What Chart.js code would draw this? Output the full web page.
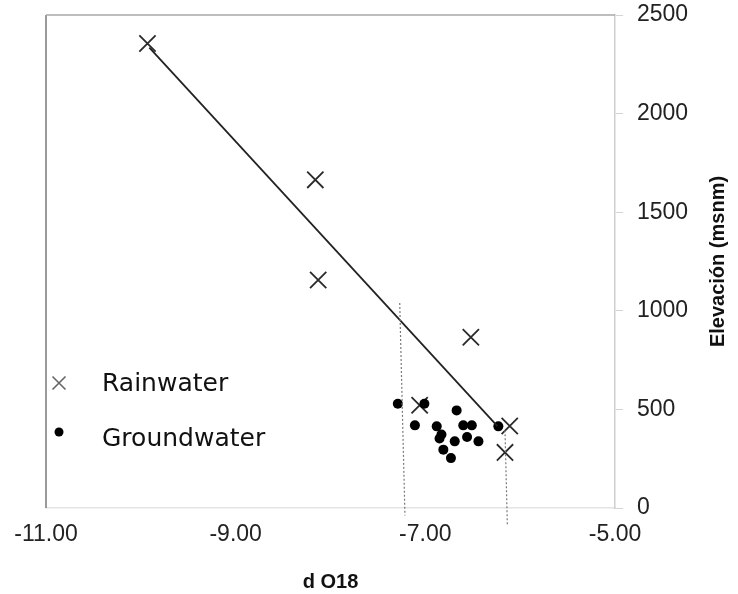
<!DOCTYPE html>
<html><head><meta charset="utf-8">
<script src="https://cdn.jsdelivr.net/npm/chart.js@4/dist/chart.umd.min.js"></script>
<style>html,body{margin:0;padding:0;background:#fff}#wrap{width:738px;height:594px;position:relative}</style>
</head><body><div id="wrap"><canvas id="c" width="738" height="594"></canvas></div>
<script>
// ---- data ----
const rainX = [-9.93, -8.16, -8.13, -6.52, -7.06, -6.11, -6.16];
const rainY = [2355, 1664, 1156, 866, 521, 416, 282];
const groundX = [-7.29, -7.01, -6.67, -7.11, -6.88, -6.60, -6.51, -6.23, -6.83, -6.85, -6.56, -6.69, -6.44, -6.81, -6.73];
const groundY = [529, 529, 495, 419, 414, 419, 419, 414, 373, 352, 360, 338, 338, 296, 253];
const trendX = [-9.91, -6.24];
const trendY = [2335, 415];
const guide1X = [-7.27, -7.215];
const guide1Y = [1040, -38];
const guide2X = [-6.16, -6.135];
const guide2Y = [394, -89];
const xTicks = [-11, -9, -7, -5];
const yTicks = [0, 500, 1000, 1500, 2000, 2500];
const seriesNames = ['Rainwater', 'Groundwater'];
const xTitle = 'd O18';
const yTitle = 'Elevación (msnm)';

const pts = (xs, ys) => xs.map((x, i) => ({x: x, y: ys[i]}));

const framePlugin = {
  id: 'frame',
  beforeDatasetsDraw(chart) {
    const {ctx, chartArea: a} = chart;
    ctx.save();
    ctx.strokeStyle = '#9a9a9a';
    ctx.lineWidth = 2;
    ctx.beginPath(); ctx.moveTo(a.left, a.top); ctx.lineTo(a.left, a.bottom); ctx.stroke();
    ctx.lineWidth = 1.5;
    ctx.strokeStyle = '#a8a8a8';
    ctx.beginPath(); ctx.moveTo(a.left, a.top); ctx.lineTo(a.right, a.top); ctx.stroke();
    ctx.restore();
  },
  afterDraw(chart) {
    const {ctx, chartArea: a} = chart;
    ctx.save();
    // y axis title (reads bottom to top)
    ctx.translate(718, (a.top + a.bottom) / 2);
    ctx.rotate(-Math.PI / 2);
    ctx.fillStyle = '#111';
    ctx.font = 'bold 20px "Liberation Sans", Arial, sans-serif';
    ctx.textAlign = 'center';
    ctx.textBaseline = 'middle';
    ctx.fillText(yTitle, 0, 0);
    ctx.restore();

    // legend inside plot
    ctx.save();
    const mx = a.left + 13;
    ctx.font = '25px "DejaVu Sans", sans-serif';
    ctx.fillStyle = '#111';
    ctx.textBaseline = 'middle';
    ctx.textAlign = 'left';
    ctx.strokeStyle = '#666';
    ctx.lineWidth = 1.6;
    const r = 6.5;
    const y1 = 383;
    ctx.beginPath();
    ctx.moveTo(mx - r, y1 - r); ctx.lineTo(mx + r, y1 + r);
    ctx.moveTo(mx - r, y1 + r); ctx.lineTo(mx + r, y1 - r);
    ctx.stroke();
    ctx.fillText(seriesNames[0], 102, 384);
    const y2 = 432;
    ctx.fillStyle = '#000';
    ctx.beginPath(); ctx.arc(mx, y2, 4.5, 0, Math.PI * 2); ctx.fill();
    ctx.fillStyle = '#111';
    ctx.fillText(seriesNames[1], 102, 439);
    ctx.restore();
  }
};

new Chart(document.getElementById('c'), {
  type: 'scatter',
  data: {
    datasets: [
      {label: 'guide1', data: pts(guide1X, guide1Y), showLine: true, pointRadius: 0, borderColor: '#7a7a7a', borderWidth: 1.2, borderDash: [2, 2], clip: false},
      {label: 'guide2', data: pts(guide2X, guide2Y), showLine: true, pointRadius: 0, borderColor: '#7a7a7a', borderWidth: 1.2, borderDash: [2, 2], clip: false},
      {label: 'trend', data: pts(trendX, trendY), showLine: true, pointRadius: 0, borderColor: '#222', borderWidth: 1.8},
      {label: seriesNames[1], data: pts(groundX, groundY), pointStyle: 'circle', pointRadius: 5, backgroundColor: '#000', borderColor: '#000', borderWidth: 0},
      {label: seriesNames[0], data: pts(rainX, rainY), pointStyle: 'crossRot', pointRadius: 11.5, borderColor: '#2a2a2a', backgroundColor: '#2a2a2a', borderWidth: 1.8}
    ]
  },
  options: {
    responsive: false,
    animation: false,
    layout: {padding: {left: 46, top: 15, right: 0, bottom: 0}},
    plugins: {legend: {display: false}, tooltip: {enabled: false}},
    scales: {
      x: {
        type: 'linear', position: 'bottom', min: -11, max: -5,
        afterBuildTicks: s => { s.ticks = xTicks.map(v => ({value: v})); },
        afterFit: s => { s.height = 86; s.paddingLeft = 0; s.paddingRight = 0; },
        grid: {display: true, drawOnChartArea: false, drawTicks: false},
        border: {display: true, color: '#e4e4e4', width: 1.5},
        ticks: {padding: 13, color: '#222', maxRotation: 0, autoSkip: false,
          font: {family: '"Liberation Sans", Arial, sans-serif', size: 23},
          callback: v => Number(v).toFixed(2)},
        title: {display: true, text: xTitle, color: '#111', padding: {top: 0, bottom: 0},
          font: {family: '"Liberation Sans", Arial, sans-serif', size: 20, weight: 'bold'}}
      },
      y: {
        type: 'linear', position: 'right', min: 0, max: 2500,
        afterBuildTicks: s => { s.ticks = yTicks.map(v => ({value: v})); },
        afterFit: s => { s.width = 123; s.paddingTop = 0; s.paddingBottom = 0; },
        grid: {display: true, drawOnChartArea: false, drawTicks: true, tickLength: 8, tickColor: '#d4d4d4'},
        border: {display: true, color: '#d0d0d0', width: 1.5},
        ticks: {padding: 14, color: '#222',
          font: {family: '"Liberation Sans", Arial, sans-serif', size: 23},
          callback: v => String(v)},
        title: {display: false}
      }
    }
  },
  plugins: [framePlugin]
});
</script>
</body></html>
